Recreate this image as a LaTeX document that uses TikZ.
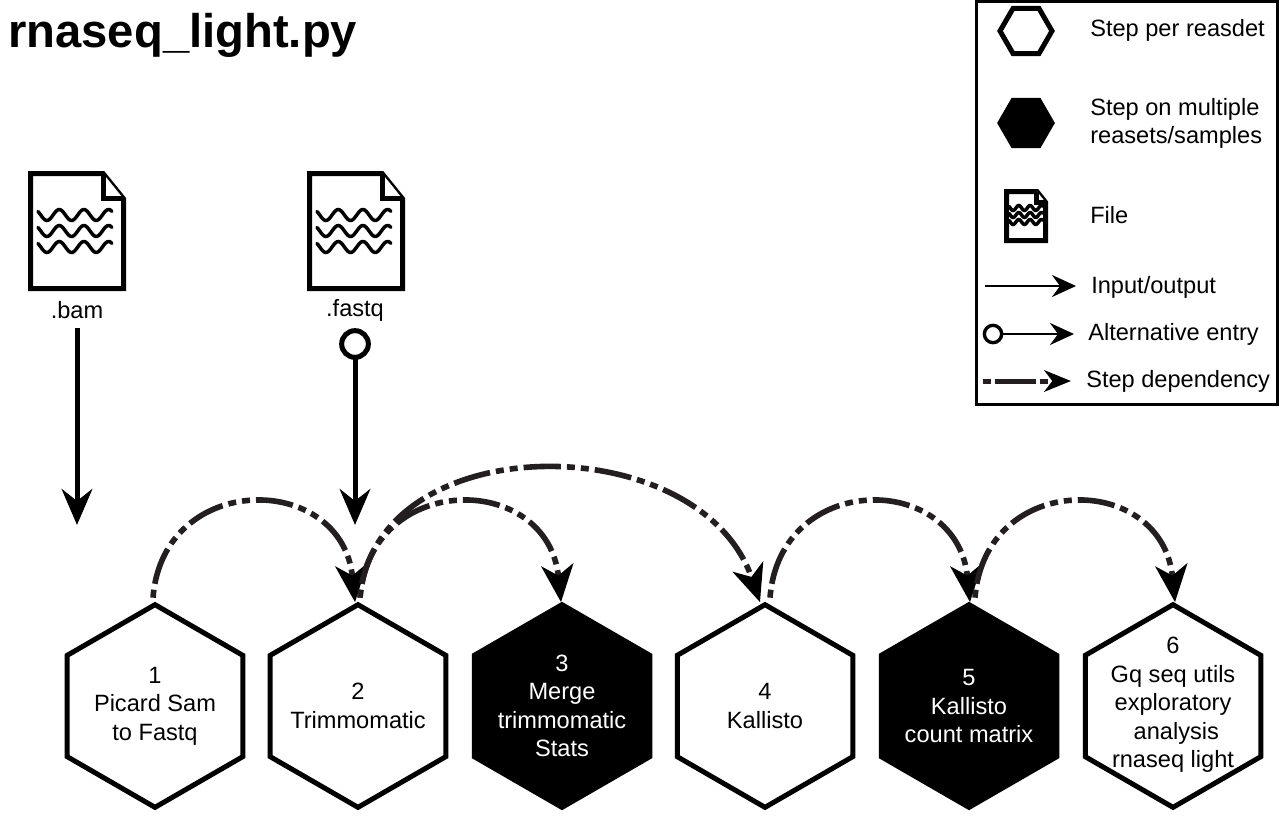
\documentclass[tikz,border=0pt]{standalone}
\usepackage{fontspec}
\setmainfont{Liberation Sans}
\usetikzlibrary{arrows.meta,shapes.geometric,calc}
\definecolor{depcol}{HTML}{231F20}
\tikzset{
  x=0.75pt,y=-0.75pt,
  stepbase/.style={regular polygon,regular polygon sides=6,shape border rotate=30,minimum size=152pt,inner sep=0pt,outer sep=0pt,line width=3.75pt},
  stepsingle/.style={stepbase,draw=black,fill=white},
  stepmulti/.style={stepbase,draw=black,fill=black},
  steptext/.style={align=center,inner sep=0pt,font=\fontsize{17.7pt}{21.4pt}\selectfont,text=black},
  steptextw/.style={steptext,text=white},
  keysingle/.style={regular polygon,regular polygon sides=6,minimum size=39pt,inner sep=0pt,outer sep=0pt,line width=3.75pt,draw=black,fill=white},
  keymulti/.style={keysingle,fill=black},
  label/.style={font=\fontsize{17.7pt}{21.4pt}\selectfont,inner sep=0pt,align=left},
  flow/.style={line width=3.75pt,-{Stealth[length=27pt,width=23pt,inset=9pt]}},
  keytip/.style={-{Stealth[length=18pt,width=16.5pt,inset=6pt]}},
  depend/.style={line width=4.2pt,color=depcol,dash pattern=on 6pt off 4.5pt on 28pt off 4.5pt on 6pt off 4.5pt,-{Stealth[length=28pt,width=24pt,inset=8pt,black]}},
  filebody/.style={draw=black,line width=3.75pt,line join=miter,fill=white},
  wave/.style={draw=black,line width=2.6pt,line cap=round},
}
\newcommand{\fileicon}[4]{% left, top, width, height in px
  \draw[filebody] (#1,#2) -- ({#1+#3*0.78},#2) -- ({#1+#3},{#2+#4*0.22}) -- ({#1+#3},{#2+#4}) -- (#1,{#2+#4}) -- cycle;
  \draw[filebody] ({#1+#3*0.78},#2) -- ({#1+#3*0.78},{#2+#4*0.22}) -- ({#1+#3},{#2+#4*0.22});
}
\newcommand{\wavyrow}[4]{% x start, x end, y, amplitude
  \draw[wave] plot[domain=0:1,samples=60,smooth] ({#1+(#2-#1)*\x},{#3-#4*sin(360*3*\x+140)});
}
\begin{document}
\begin{tikzpicture}
\useasboundingbox (0,0) rectangle (1280,838);
\fill[white] (0,0) rectangle (1280,838);
% title
\node[anchor=base west,inner sep=0pt,font=\bfseries\fontsize{35.4pt}{40pt}\selectfont] (title) at (8,48) {rnaseq\_light.py};
% files
\fileicon{30.5}{173.5}{93}{115}
\wavyrow{38}{112}{215}{5.5}
\wavyrow{38}{112}{231}{5.5}
\wavyrow{38}{112}{247}{5.5}
\fileicon{309.5}{173.5}{93}{115}
\wavyrow{317}{391}{215}{5.5}
\wavyrow{317}{391}{231}{5.5}
\wavyrow{317}{391}{247}{5.5}
\node[label] (bam) at (77,310) {.bam};
\node[label] (fastq) at (355,310) {.fastq};
\node[circle,draw=black,fill=white,line width=3.75pt,minimum size=20pt,inner sep=0pt,outer sep=0pt] (alt) at (355,344) {};
\coordinate (bamend) at (77,525);
\coordinate (fastqend) at (355,525);
\draw[flow] ($(bam.south)+(0,9)$) -- (bamend);
\draw[flow] (alt.south) -- (fastqend);
% steps
\node[stepsingle] (s1) at (155,706) {};
\node[stepsingle] (s2) at (358,706) {};
\node[stepmulti] (s3) at (562,706) {};
\node[stepsingle] (s4) at (765,706) {};
\node[stepmulti] (s5) at (969,706) {};
\node[stepsingle] (s6) at (1173,706) {};
\node[steptext] (n1) at (155,706) {1\\Picard Sam\\to Fastq};
\node[steptext] (n2) at (358,706) {2\\Trimmomatic};
\node[steptextw] (n3) at (562,706) {3\\Merge\\trimmomatic\\Stats};
\node[steptext] (n4) at (765,706) {4\\Kallisto};
\node[steptextw] (n5) at (969,706) {5\\Kallisto\\count matrix};
\node[steptext] (n6) at (1173,705) {6\\Gq seq utils\\exploratory\\\hspace*{5pt}analysis\\rnaseq light};
% dependencies
\draw[depend] ($(s2.north)+(2,-7)$) .. controls +(15,-172) and +(-60,-176) .. ($(s4.north)+(-5,-2.5)$);
\draw[depend] ($(s1.north)+(-2,-7)$) .. controls +(10,-127) and +(-13,-131) .. ($(s2.north)+(-3,-2.5)$);
\draw[depend] ($(s2.north)+(2,-7)$) .. controls +(10,-127) and +(-13,-131) .. ($(s3.north)+(-1,-2.5)$);
\draw[depend] ($(s4.north)+(5,-7)$) .. controls +(10,-127) and +(-13,-131) .. ($(s5.north)+(1,-2.5)$);
\draw[depend] ($(s5.north)+(6,-7)$) .. controls +(10,-127) and +(-13,-131) .. ($(s6.north)+(2,-2.5)$);
% legend
\draw[black,line width=2.5pt] (976.5,1) rectangle (1277.5,404.5);
\node[keysingle] (k1) at (1026,31) {};
\node[keymulti] (k2) at (1026,123) {};
\fileicon{1006.5}{191.5}{39}{49}
\foreach \yy in {208,215,222}{\wavyrow{1009}{1043}{\yy}{2.5}}
\node[label,anchor=west] (t1) at (1090,30) {Step per reasdet};
\node[label,anchor=west] (t2) at (1090,123.5) {Step on multiple\\reasets/samples};
\node[label,anchor=west] (t3) at (1090,215) {File};
\node[label,anchor=west] (t4) at (1091,287) {Input/output};
\node[label,anchor=west] (t5) at (1088,334) {Alternative entry};
\node[label,anchor=west] (t6) at (1086,381) {Step dependency};
\coordinate (a1) at (985,286); \coordinate (b1) at (1076,286);
\draw[line width=1.9pt,keytip] (a1) -- (b1);
\node[circle,draw=black,fill=white,line width=2.5pt,minimum size=13pt,inner sep=0pt,outer sep=0pt] (a2) at (993,334) {};
\coordinate (b2) at (1074,334);
\draw[line width=1.9pt,keytip] (a2) -- (b2);
\coordinate (a3) at (983,381); \coordinate (b3) at (1071,381);
\draw[line width=3.75pt,color=depcol,dash pattern=on 6pt off 3pt on 31pt off 3pt,-{Stealth[length=20pt,width=16pt,inset=6pt,black]}] (a3) -- (b3);
\end{tikzpicture}
\end{document}
